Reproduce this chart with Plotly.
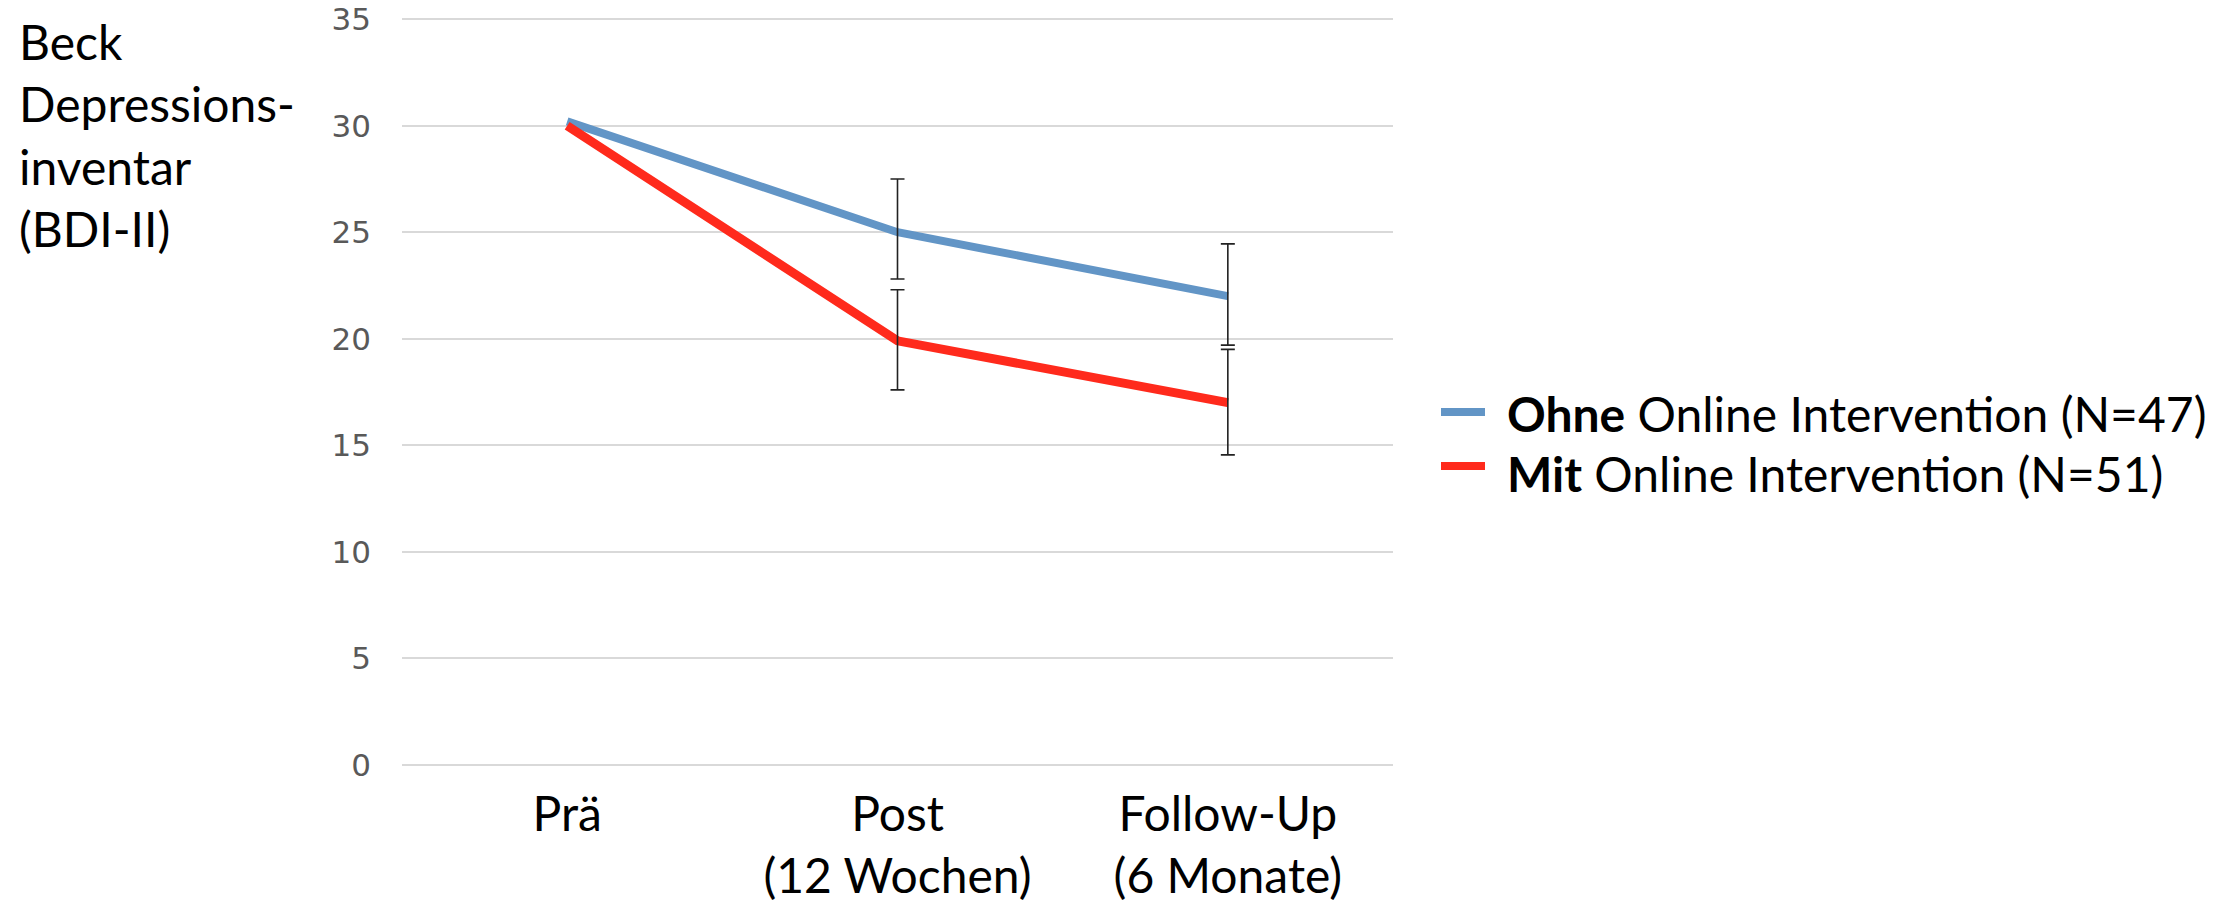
import plotly.graph_objects as go

# Messzeitpunkte
categories = ["Prä", "Post<br>(12 Wochen)", "Follow-Up<br>(6 Monate)"]

# BDI-II Mittelwerte je Gruppe
ohne_mean = [30.2, 25.0, 22.0]
mit_mean = [30.0, 19.9, 17.0]

# Fehlerbalken (oben / unten)
ohne_err_plus = [0, 2.5, 2.45]
ohne_err_minus = [0, 2.2, 2.3]
mit_err_plus = [0, 2.4, 2.5]
mit_err_minus = [0, 2.3, 2.45]

y_ticks = [0, 5, 10, 15, 20, 25, 30, 35]

legend_labels = ["<b>Ohne</b> Online Intervention (N=47)",
                 "<b>Mit</b> Online Intervention (N=51)"]

BLUE = "#6295C6"
RED = "#FF2A1C"
TEXT_FONT = "Lato"

W, H = 2234, 903
L, R, T, B = 402, 841, 17, 136
pw = W - L - R
ph = H - T - B


def px_x(px):
    return (px - L) / pw


def px_y(py):
    return (H - B - py) / ph


fig = go.Figure()

fig.add_trace(go.Scatter(
    x=categories, y=ohne_mean, mode="lines",
    line=dict(color=BLUE, width=8),
    name=legend_labels[0], showlegend=False,
))
fig.add_trace(go.Scatter(
    x=categories, y=mit_mean, mode="lines",
    line=dict(color=RED, width=9),
    name=legend_labels[1], showlegend=False,
))

# Fehlerbalken über den Linien
for means, ep, em in [(ohne_mean, ohne_err_plus, ohne_err_minus),
                      (mit_mean, mit_err_plus, mit_err_minus)]:
    xs = [c for c, p in zip(categories, ep) if p > 0]
    ys = [m for m, p in zip(means, ep) if p > 0]
    fig.add_trace(go.Scatter(
        x=xs, y=ys, mode="markers",
        marker=dict(size=1, opacity=0),
        error_y=dict(type="data", symmetric=False,
                     array=[p for p in ep if p > 0],
                     arrayminus=[m for m, p in zip(em, ep) if p > 0],
                     color="#222222", thickness=1.6, width=7),
        showlegend=False, hoverinfo="skip",
    ))

# Legende: Linienmuster + Beschriftung
legend_rows = [(BLUE, 412, 414), (RED, 466, 475)]
for (color, sample_y, text_y), label in zip(legend_rows, legend_labels):
    fig.add_shape(
        type="line", xref="paper", yref="paper",
        x0=px_x(1441), x1=px_x(1485), y0=px_y(sample_y), y1=px_y(sample_y),
        line=dict(color=color, width=8),
    )
    fig.add_annotation(
        text=label, xref="paper", yref="paper",
        x=px_x(1505), y=px_y(text_y - 1),
        xanchor="left", yanchor="middle", showarrow=False,
        font=dict(family=TEXT_FONT, size=48, color="black"),
    )

fig.add_annotation(
    text="Beck<br>Depressions-<br>inventar<br>(BDI-II)",
    xref="paper", yref="paper",
    x=px_x(17), y=px_y(11),
    xanchor="left", yanchor="top", align="left",
    showarrow=False,
    font=dict(family=TEXT_FONT, size=48, color="black"),
)

fig.update_layout(
    width=W, height=H,
    margin=dict(l=L, r=R, t=T, b=B, pad=0, autoexpand=False),
    paper_bgcolor="white", plot_bgcolor="white",
    showlegend=False,
    xaxis=dict(
        type="category", range=[-0.5, 2.5], automargin=False,
        showgrid=False, showline=False, zeroline=False,
        ticks="", ticklabelstandoff=15,
        tickfont=dict(family=TEXT_FONT, size=48, color="black"),
    ),
    yaxis=dict(
        range=[-0.1, 35.1], tickvals=y_ticks, automargin=False,
        showgrid=True, gridcolor="#D9D9D9", gridwidth=2,
        zeroline=False, showline=False, ticks="",
        ticklabelstandoff=30,
        tickfont=dict(family="DejaVu Sans", size=31, color="#595959"),
    ),
)

fig.write_html("out.html")
